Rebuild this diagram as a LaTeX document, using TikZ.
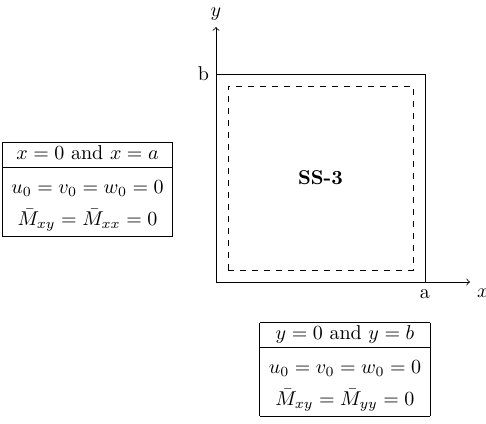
\documentclass[tikz,border=0pt]{standalone}
\usepackage{amsmath}
\usetikzlibrary{arrows}
\setlength{\tabcolsep}{4.5pt}

\begin{document}
\begin{tikzpicture}[axis/.style={->},
    bcbox/.style={inner sep=0pt,font=\normalsize}]
  \useasboundingbox (-3.796,-2.478) rectangle (4.745,4.956);
  \coordinate (O) at (0,0);
  \coordinate (A) at (3.673,0);
  \coordinate (B) at (0,3.655);
  \coordinate (AB) at (3.673,3.655);
  \coordinate (xend) at (4.464,0);
  \coordinate (yend) at (0,4.481);

  \draw[axis] (O) -- (xend) node[below right] {$x$};
  \draw[axis] (O) -- (yend) node[above] {$y$};
  \draw (O) rectangle (AB);
  \draw[dashed] (.211,.211) rectangle (3.462,3.444);
  \node[below] (la) at (A) {a};
  \node[left] (lb) at (B) {b};
  \node (plate) at (1.836,1.83) {\textbf{SS-3}};

  \node[bcbox] (bcx) at (-2.258,1.626) {%
    \begin{tabular}{|c|}\hline
      $x=0$ and $x=a$\\\hline
      \rule{0pt}{13pt}$u_0=v_0=w_0=0$\\[4pt]
      $\bar M_{xy}=\bar M_{xx}=0$\\[1.5pt]\hline
    \end{tabular}};
  \node[bcbox] (bcy) at (2.267,-1.529) {%
    \begin{tabular}{|c|}\hline
      $y=0$ and $y=b$\\\hline
      \rule{0pt}{13pt}$u_0=v_0=w_0=0$\\[4pt]
      $\bar M_{xy}=\bar M_{yy}=0$\\[1.5pt]\hline
    \end{tabular}};
\end{tikzpicture}
\end{document}
